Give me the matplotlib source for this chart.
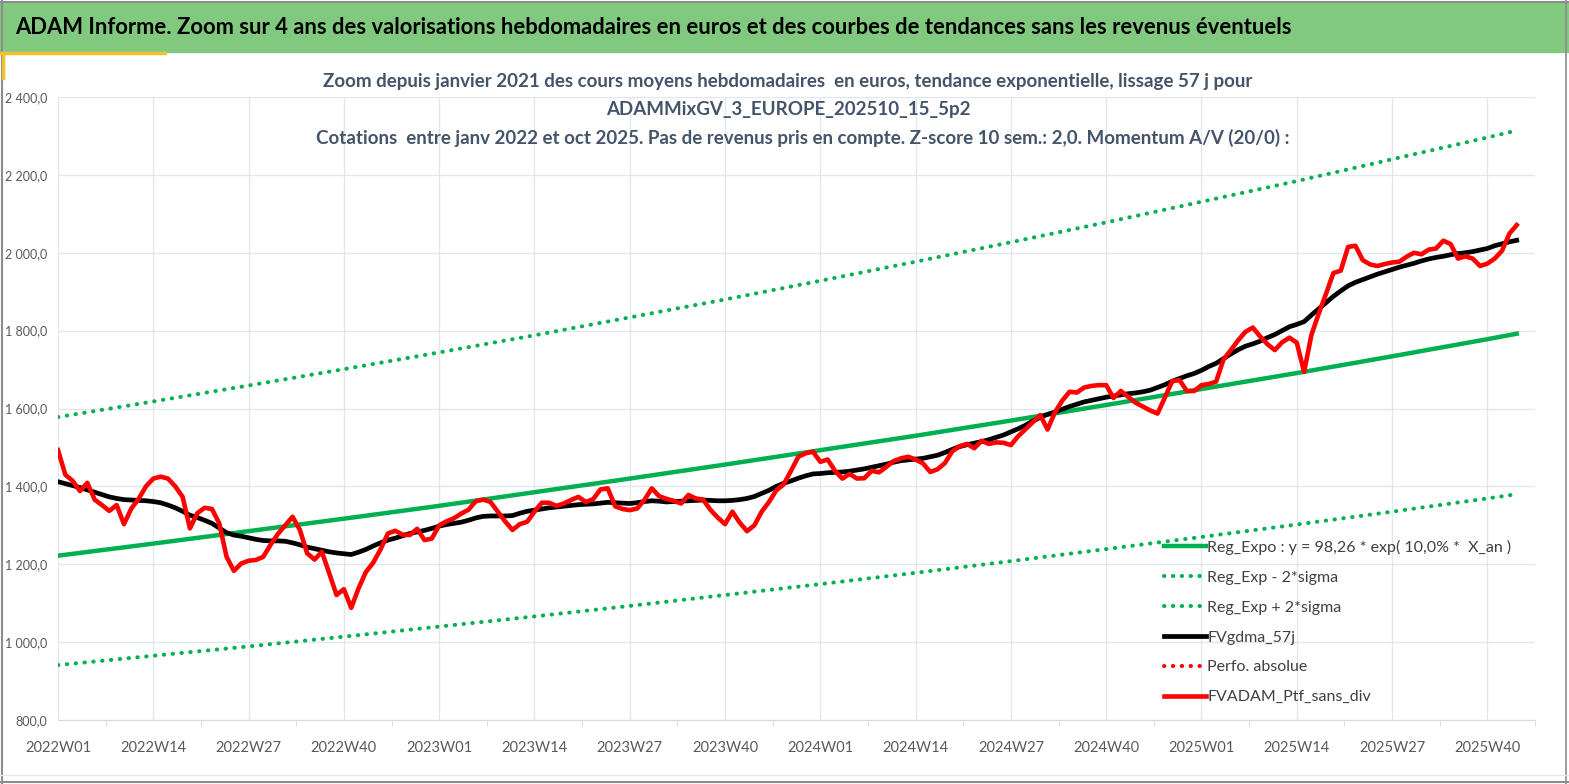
import matplotlib
matplotlib.use('Agg')
import matplotlib.pyplot as plt
from matplotlib.lines import Line2D
import numpy as np

# weekly categories 2022W01 .. (52 per year on the axis)
years = [2022, 2023, 2024, 2025]
n_weeks = 200
tick_idx = list(range(0, 196, 13))
tick_labels = ['%dW%02d' % (2022 + i // 52, i % 52 + 1) for i in tick_idx]

# FVADAM_Ptf_sans_div (red)
ptf = [1493, 1430, 1414, 1388, 1409, 1366, 1352, 1337, 1352, 1303,
       1343, 1368, 1400, 1420, 1425, 1420, 1400, 1373, 1292, 1331,
       1345, 1342, 1305, 1219, 1183, 1202, 1209, 1211, 1219, 1250,
       1278, 1300, 1322, 1288, 1228, 1212, 1232, 1177, 1121, 1136,
       1088, 1138, 1180, 1204, 1238, 1279, 1286, 1276, 1275, 1291,
       1262, 1266, 1300, 1310, 1318, 1330, 1340, 1362, 1366, 1360,
       1335, 1310, 1288, 1303, 1309, 1335, 1358, 1358, 1350, 1356,
       1365, 1373, 1360, 1367, 1392, 1395, 1349, 1342, 1339, 1343,
       1365, 1395, 1375, 1368, 1363, 1356, 1378, 1369, 1366, 1340,
       1320, 1303, 1335, 1307, 1285, 1300, 1335, 1360, 1390, 1405,
       1440, 1476, 1485, 1489, 1463, 1469, 1440, 1420, 1432, 1420,
       1421, 1440, 1436, 1450, 1465, 1472, 1476, 1469, 1459, 1437,
       1444, 1460, 1490, 1503, 1509, 1498, 1517, 1509, 1513, 1512,
       1506, 1529, 1547, 1565, 1583, 1546, 1590, 1620, 1643, 1641,
       1654, 1658, 1660, 1660, 1627, 1645, 1630, 1615, 1605, 1595,
       1587, 1628, 1670, 1673, 1645, 1645, 1660, 1663, 1669, 1726,
       1750, 1775, 1797, 1808, 1785, 1765, 1750, 1770, 1782, 1769,
       1694, 1789, 1844, 1895, 1948, 1954, 2015, 2018, 1981, 1970,
       1966, 1971, 1975, 1977, 1990, 2000, 1996, 2008, 2011, 2031,
       2022, 1985, 1991, 1985, 1966, 1972, 1985, 2005, 2049, 2071]

# FVgdma_57j (black), smoothed series
gdma = [1412, 1407, 1402, 1397, 1391, 1385, 1379, 1373, 1369, 1366,
        1365, 1364, 1363, 1361, 1358, 1352, 1345, 1336, 1326, 1320,
        1313, 1305, 1293, 1281, 1275, 1272, 1268, 1264, 1261, 1260,
        1260, 1259, 1255, 1250, 1244, 1240, 1236, 1232, 1229, 1227,
        1225, 1231, 1238, 1247, 1255, 1262, 1267, 1273, 1279, 1283,
        1287, 1292, 1298, 1302, 1305, 1308, 1313, 1319, 1323, 1324,
        1324, 1324, 1325, 1331, 1336, 1339, 1342, 1345, 1347, 1349,
        1351, 1353, 1354, 1355, 1357, 1359, 1358, 1357, 1356, 1358,
        1361, 1363, 1362, 1360, 1361, 1362, 1363, 1364, 1365, 1364,
        1363, 1363, 1364, 1366, 1369, 1374, 1382, 1390, 1400, 1408,
        1414, 1421, 1427, 1432, 1433, 1435, 1436, 1437, 1439, 1442,
        1445, 1449, 1453, 1457, 1462, 1466, 1468, 1470, 1472, 1476,
        1480, 1487, 1495, 1502, 1507, 1511, 1515, 1520, 1526, 1532,
        1540, 1548, 1557, 1568, 1577, 1585, 1591, 1598, 1605, 1611,
        1617, 1621, 1625, 1629, 1632, 1635, 1638, 1640, 1643, 1647,
        1654, 1661, 1670, 1677, 1684, 1690, 1698, 1708, 1716, 1728,
        1740, 1751, 1760, 1766, 1773, 1782, 1790, 1800, 1810, 1816,
        1823, 1840, 1856, 1872, 1888, 1902, 1915, 1924, 1931, 1938,
        1945, 1951, 1957, 1963, 1968, 1973, 1979, 1984, 1988, 1991,
        1995, 1998, 2000, 2003, 2007, 2011, 2018, 2023, 2028, 2032]

# regression curves, read every 13 weeks and at the last week
reg_idx = [0, 13, 26, 39, 52, 65, 78, 91, 104, 117, 130, 143, 156, 169, 182, 195, 199]
reg_expo = [1222, 1253, 1285, 1317, 1350, 1385, 1420, 1456, 1493, 1530,
            1569, 1609, 1650, 1691, 1734, 1778, 1792]
reg_minus = [941, 965, 989, 1014, 1040, 1066, 1093, 1121, 1149, 1178,
             1208, 1239, 1270, 1302, 1335, 1369, 1380]
reg_plus = [1578, 1618, 1659, 1701, 1744, 1788, 1834, 1880, 1928, 1977,
            2027, 2078, 2131, 2184, 2240, 2296, 2314]

labels = ['Reg_Expo : y = 98,26 * exp( 10,0% *  X_an )', 'Reg_Exp - 2*sigma',
          'Reg_Exp + 2*sigma', 'FVgdma_57j', 'Perfo. absolue', 'FVADAM_Ptf_sans_div']

plt.rcParams['font.family'] = ['Lato', 'DejaVu Sans']
txt_col = '#404040'
green = '#00B050'
dots = (0, (0.1, 2.1))

fig = plt.figure(figsize=(15.69, 7.84), dpi=100)
W, H = 1569.0, 784.0

# header band and frame
fig.patches.append(plt.Rectangle((0, 1 - 52 / H), 1, 50 / H, transform=fig.transFigure,
                                 color='#80C97E', zorder=0))
fig.add_artist(Line2D([0.001, 0.001], [0, 1], color='#8C8C8C', lw=1.5, transform=fig.transFigure))
fig.add_artist(Line2D([0, 1], [1 - 2 / H, 1 - 2 / H], color='#8C8C8C', lw=1.5, transform=fig.transFigure))
fig.add_artist(Line2D([1566 / W, 1566 / W], [0, 1], color='#8C8C8C', lw=1.2, transform=fig.transFigure))
fig.add_artist(Line2D([0, 1], [1 - 782 / H, 1 - 782 / H], color='#8C8C8C', lw=1.5, transform=fig.transFigure))
fig.add_artist(Line2D([0, 1], [1 - 775 / H, 1 - 775 / H], color='#E8E8E8', lw=1, transform=fig.transFigure))
fig.add_artist(Line2D([0, 165 / W], [1 - 53 / H, 1 - 53 / H], color='#F2C12E', lw=2.5, transform=fig.transFigure))
fig.add_artist(Line2D([3 / W, 3 / W], [1 - 53 / H, 1 - 78 / H], color='#F2C12E', lw=2.5, transform=fig.transFigure))

fig.text(15 / W, 1 - 28 / H, 'ADAM Informe. Zoom sur 4 ans des valorisations hebdomadaires en euros '
         'et des courbes de tendances sans les revenus éventuels',
         fontsize=15.8, fontweight='bold', color='black', va='center', ha='left')

sub_col = '#44546A'
fig.text(788 / W, 1 - 82 / H, 'Zoom depuis janvier 2021 des cours moyens hebdomadaires  en euros, '
         'tendance exponentielle, lissage 57 j pour',
         fontsize=13.5, fontweight='bold', color=sub_col, ha='center', va='center')
fig.text(788 / W, 1 - 110 / H, 'ADAMMixGV_3_EUROPE_202510_15_5p2',
         fontsize=13.5, fontweight='bold', color=sub_col, ha='center', va='center')
fig.text(803 / W, 1 - 138 / H, 'Cotations  entre janv 2022 et oct 2025. Pas de revenus pris en compte. '
         'Z-score 10 sem.: 2,0. Momentum A/V (20/0) :',
         fontsize=13.5, fontweight='bold', color=sub_col, ha='center', va='center')

ax = fig.add_axes([58 / W, 1 - 720 / H, (1535 - 58) / W, (720 - 97) / H])
x = np.arange(n_weeks)

l1, = ax.plot(reg_idx, reg_expo, color=green, lw=3.2, label=labels[0], zorder=3)
l2, = ax.plot(reg_idx, reg_minus, color=green, lw=2.9, ls=dots, dash_capstyle='round',
              label=labels[1], zorder=3)
l3, = ax.plot(reg_idx, reg_plus, color=green, lw=2.9, ls=dots, dash_capstyle='round',
              label=labels[2], zorder=3)
l4, = ax.plot(x, gdma, color='black', lw=3.4, label=labels[3], zorder=4)
l5, = ax.plot([], [], color='#FF0000', lw=2.9, ls=dots, dash_capstyle='round', label=labels[4])
l6, = ax.plot(x, ptf, color='#FF0000', lw=3.3, label=labels[5], zorder=5)

ax.set_xlim(0, n_weeks - 1)
ax.set_ylim(800, 2400)
ax.set_yticks(range(800, 2401, 200))
ax.set_yticklabels([('%d' % v if v < 1000 else '%d %03d' % (v // 1000, v % 1000)) + ',0'
                    for v in range(800, 2401, 200)])
ax.set_xticks(tick_idx)
ax.set_xticklabels(tick_labels)
ax.set_xticks([i + 6.5 for i in tick_idx[:-1]] + [201.5], minor=True)
ax.tick_params(axis='x', which='major', length=0, pad=15, labelsize=10.5, labelcolor='#595959')
ax.tick_params(axis='x', which='minor', length=4, color='#D9D9D9', direction='out')
ax.tick_params(axis='y', length=0, pad=8, labelsize=9, labelcolor='#595959')
ax.grid(True, which='major', color='#E3E6EC', lw=1)
for s in ['top', 'right', 'left']:
    ax.spines[s].set_visible(False)
ax.spines['bottom'].set_color('#D9D9D9')

fig.legend(handles=[l1, l2, l3, l4, l5, l6], loc='upper left',
           bbox_to_anchor=(1156 / W, 1 - 532 / H), frameon=False, fontsize=11.5,
           handlelength=2.6, handletextpad=0.1, labelspacing=0.98, borderpad=0,
           labelcolor=txt_col)

fig.savefig('out.png', dpi=100)
